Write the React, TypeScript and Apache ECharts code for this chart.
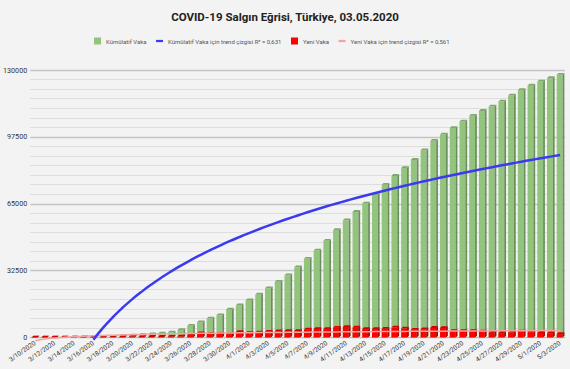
import React, { useEffect, useRef } from "react";
import * as echarts from "echarts";

const categories = [
  "3/10/2020","3/11/2020","3/12/2020","3/13/2020","3/14/2020","3/15/2020","3/16/2020","3/17/2020","3/18/2020","3/19/2020",
  "3/20/2020","3/21/2020","3/22/2020","3/23/2020","3/24/2020","3/25/2020","3/26/2020","3/27/2020","3/28/2020","3/29/2020",
  "3/30/2020","3/31/2020","4/1/2020","4/2/2020","4/3/2020","4/4/2020","4/5/2020","4/6/2020","4/7/2020","4/8/2020",
  "4/9/2020","4/10/2020","4/11/2020","4/12/2020","4/13/2020","4/14/2020","4/15/2020","4/16/2020","4/17/2020","4/18/2020",
  "4/19/2020","4/20/2020","4/21/2020","4/22/2020","4/23/2020","4/24/2020","4/25/2020","4/26/2020","4/27/2020","4/28/2020",
  "4/29/2020","4/30/2020","5/1/2020","5/2/2020","5/3/2020"
];

const cumulativeCases = [
  1, 1, 5, 6, 18, 47, 98, 191, 359, 670,
  947, 1236, 1529, 1872, 2433, 3629, 5698, 7402, 9217, 10827,
  13531, 15679, 18135, 20921, 23934, 27069, 30217, 34109, 38226, 42282,
  47029, 52167, 56956, 61049, 65111, 69392, 74193, 78546, 82329, 86306,
  90980, 95591, 98674, 101790, 104912, 107773, 110130, 112261, 114653, 117589,
  120204, 122392, 124375, 126045, 127659
];

const newCases = [
  0, 1, 0, 4, 1, 12, 29, 51, 93, 168,
  311, 277, 289, 293, 343, 561, 1196, 2069, 1704, 1815,
  1610, 2704, 2148, 2456, 2786, 3013, 3135, 3148, 3892, 4117,
  4056, 4747, 5138, 4789, 4093, 4062, 4281, 4801, 4353, 3783,
  3977, 4674, 4611, 3083, 3116, 3122, 2861, 2357, 2131, 2392,
  2936, 2615, 2188, 1983, 1670
];

const cumulativeTrend = [
  null, null, null, null, null, null, -1050, 4770, 9900, 14490,
  18640, 22420, 25910, 29140, 32140, 34950, 37590, 40080, 42430, 44660,
  46790, 48810, 50750, 52600, 54380, 56090, 57730, 59310, 60840, 62320,
  63750, 65130, 66470, 67770, 69030, 70260, 71450, 72610, 73740, 74850,
  75920, 76970, 77990, 78990, 79970, 80930, 81860, 82780, 83680, 84560,
  85420, 86270, 87100, 87910, 88710
];

const newTrend = [
  -1600, -730, -230, 130, 410, 640, 830, 1000, 1140, 1270,
  1390, 1500, 1600, 1690, 1780, 1860, 1940, 2010, 2080, 2140,
  2200, 2260, 2310, 2370, 2420, 2470, 2510, 2560, 2600, 2640,
  2690, 2730, 2760, 2800, 2840, 2870, 2910, 2940, 2970, 3000,
  3030, 3060, 3090, 3120, 3150, 3180, 3200, 3230, 3260, 3280,
  3310, 3330, 3350, 3380, 3400
];

const yTicks = [0, 32500, 65000, 97500, 130000];

const TITLE = "COVID-19 Salgın Eğrisi, Türkiye, 03.05.2020";
const NAMES = [
  "Kümülatif Vaka",
  "Kümülatif Vaka için trend çizgisi R² = 0,631",
  "Yeni Vaka",
  "Yeni Vaka için trend çizgisi R² = 0,561",
];

const LINE_ICON = "path://M0,0h28v9h-28z";

function bar3D(front: string, side: string, top: string) {
  return (params: any, api: any) => {
    const idx = api.value(0);
    const val = api.value(1);
    const base = api.coord([idx, 0]);
    const tip = api.coord([idx, val]);
    const band = api.size([1, 0])[0];
    const w = band * 0.6;
    const d = 1.8;
    const x0 = base[0] - w / 2 - 0.5;
    const x1 = x0 + w;
    const yb = base[1];
    const yt = tip[1];
    return {
      type: "group",
      children: [
        { type: "rect", shape: { x: x0, y: yt, width: w, height: Math.max(0, yb - yt) }, style: { fill: front } },
        {
          type: "polygon",
          shape: { points: [[x1, yt], [x1 + d, yt - d], [x1 + d, yb - d], [x1, yb]] },
          style: { fill: side },
        },
        {
          type: "polygon",
          shape: { points: [[x0, yt], [x0 + d, yt - d], [x1 + d, yt - d], [x1, yt]] },
          style: { fill: top },
        },
      ],
    };
  };
}

export default function App() {
  const ref = useRef<HTMLDivElement>(null);
  useEffect(() => {
    if (!ref.current) return;
    const chart = echarts.init(ref.current, null, { renderer: "svg" });
    const font = "Roboto, 'Noto Sans', sans-serif";
    chart.setOption({
      animation: false,
      backgroundColor: "#f3f3f3",
      textStyle: { fontFamily: font },
      title: {
        text: TITLE,
        left: "center",
        top: 11,
        padding: 0,
        textStyle: { fontSize: 11.5, fontWeight: "bold", color: "#222", fontFamily: font },
      },
      legend: {
        top: 37.5,
        left: 94,
        padding: 0,
        itemWidth: 7,
        itemHeight: 7,
        itemGap: 9.5,
        textStyle: { fontSize: 6, color: "#555", fontFamily: font },
        data: [
          { name: NAMES[0], icon: "rect" },
          { name: NAMES[1], icon: LINE_ICON },
          { name: NAMES[2], icon: "rect" },
          { name: NAMES[3], icon: LINE_ICON },
        ],
      },
      grid: { left: 28, right: 5, top: 70, bottom: 31.5, containLabel: false },
      xAxis: {
        type: "category",
        data: categories,
        boundaryGap: true,
        axisLine: { show: true, lineStyle: { color: "#bdbdbd", width: 1 } },
        axisTick: { show: false },
        axisLabel: {
          interval: 1,
          rotate: 35,
          fontSize: 6.5,
          color: "#333",
          margin: 5,
          fontFamily: font,
        },
        splitLine: { show: false },
      },
      yAxis: {
        type: "value",
        min: yTicks[0],
        max: yTicks[yTicks.length - 1],
        interval: yTicks[1] - yTicks[0],
        axisLine: { show: false },
        axisTick: { show: false },
        axisLabel: {
          fontSize: 7.2,
          color: "#333",
          margin: 3,
          fontFamily: font,
          formatter: (v: number) => String(v),
        },
        splitLine: { show: true, lineStyle: { color: "#c4c4c4", width: 1.3 } },
        minorTick: { show: false, splitNumber: 7 },
        minorSplitLine: { show: true, lineStyle: { color: "#dddddd", width: 1 } },
      },
      series: [
        {
          name: NAMES[0],
          type: "custom",
          renderItem: bar3D("#93c47d", "#6b8f5c", "#7fa86c"),
          itemStyle: { color: "#93c47d" },
          encode: { x: 0, y: 1 },
          data: cumulativeCases.map((v, i) => [i, v]),
          z: 2,
        },
        {
          name: NAMES[2],
          type: "custom",
          renderItem: bar3D("#ff0000", "#b80000", "#d40000"),
          itemStyle: { color: "#ff0000" },
          encode: { x: 0, y: 1 },
          data: newCases.map((v, i) => [i, v]),
          z: 3,
        },
        {
          name: NAMES[3],
          type: "line",
          data: newTrend,
          symbol: "none",
          clip: false,
          smooth: true,
          lineStyle: { color: "#f4a3a3", width: 1.5 },
          itemStyle: { color: "#f4a3a3" },
          z: 4,
        },
        {
          name: NAMES[1],
          type: "line",
          data: cumulativeTrend,
          symbol: "none",
          clip: false,
          smooth: true,
          lineStyle: { color: "#3a3af0", width: 2.5 },
          itemStyle: { color: "#3a3af0" },
          z: 5,
        },
      ],
    });
    return () => chart.dispose();
  }, []);
  return <div ref={ref} style={{ width: 570, height: 369, position: "absolute", left: 0, top: 0 }} />;
}
